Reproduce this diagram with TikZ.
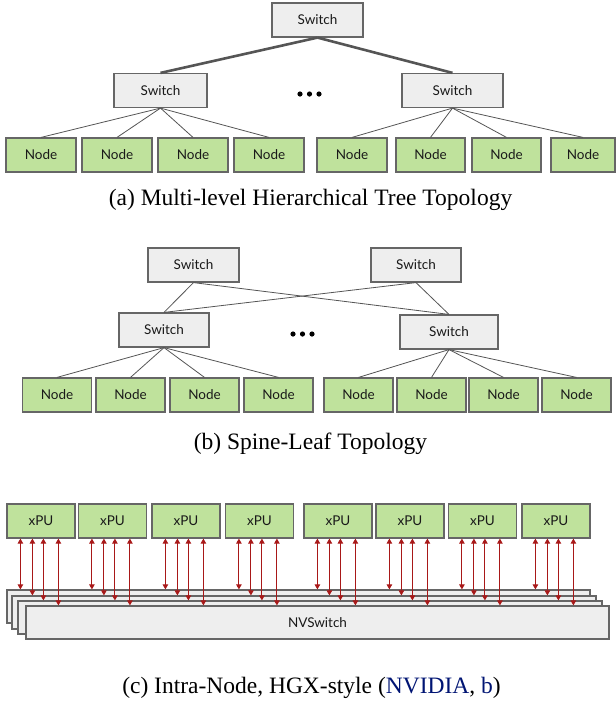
\documentclass[tikz,border=0pt]{standalone}
\usepackage{fontspec}
\setmainfont{Liberation Serif}
\newfontfamily\slidefont{Lato}
\usepackage{xcolor}
\usetikzlibrary{arrows.meta}
\usetikzlibrary{shadows}
\definecolor{boxgray}{HTML}{EEEEEE}
\definecolor{edgegray}{HTML}{666666}
\definecolor{wiregray}{HTML}{555555}
\definecolor{nodegreen}{HTML}{BFE29C}
\definecolor{linkred}{HTML}{A81818}
\definecolor{citeblue}{rgb}{0,0.08,0.45}
\tikzset{box/.style={draw=edgegray, line width=1.2pt, inner sep=0pt, minimum height=34pt,
   text=black!90, font=\slidefont\fontsize{13.5}{15}\selectfont},
 sw/.style={box, fill=boxgray},
 nd/.style={box, fill=nodegreen},
 layer/.style={box, fill=boxgray, minimum height=33pt,
   drop shadow={shadow xshift=0.8pt, shadow yshift=-1.2pt, opacity=0.3}},
 wire/.style={draw=wiregray, line width=0.8pt},
 trunk/.style={draw=wiregray, line width=2.6pt},
 link/.style={draw=linkred, line width=0.9pt,
   {Triangle[width=5.5pt,length=5pt]}-{Triangle[width=5.5pt,length=5pt]}},
 caption/.style={anchor=base, font=\fontsize{23.5}{28}\selectfont},
 }

\begin{document}
\begin{tikzpicture}[x=1pt, y=-1pt]
        \useasboundingbox (0,0) rectangle (616,705);
        % (a) tree
        \node[sw, minimum width=91pt] (aroot) at (317.5,20) {Switch};
        \node[sw, minimum width=93pt] (aleft) at (160.5,90.5) {Switch};
        \node[sw, minimum width=101pt] (aright) at (452.5,90.5) {Switch};
        \draw[trunk] (aroot.south) -- (aleft.north);
        \draw[trunk] (aroot.south) -- (aright.north);
        \foreach \n/\x in {1/41, 2/117, 3/193, 4/269} {
            \node[nd, minimum width=70pt] (a\n) at (\x,155) {Node};
            \draw[wire] (aleft.south) -- (a\n.north);
        }
        \foreach \n/\x/\w in {5/352/70, 6/430.5/69, 7/506.5/69, 8/583/64} {
            \node[nd, minimum width=\w pt] (a\n) at (\x,155) {Node};
            \draw[wire] (aright.south) -- (a\n.north);
        }
        \foreach \x in {300, 309.5, 319} {
            \fill (\x,94) circle (2.6pt);
        }
        \node[caption] (capa) at (310.5,205) {(a) Multi-level Hierarchical Tree Topology};

        % (b) spine-leaf
        \node[sw, minimum width=91pt] (bspl) at (193.5,265) {Switch};
        \node[sw, minimum width=90pt] (bspr) at (416,265) {Switch};
        \node[sw, minimum width=90pt] (bleft) at (164,330) {Switch};
        \node[sw, minimum width=98pt] (bright) at (449,332) {Switch};
        \draw[wire] (bspl.south) -- (bleft.north);
        \draw[wire] (bspl.south) -- (bright.north);
        \draw[wire] (bspr.south) -- (bright.north);
        \draw[wire] (bspr.south) -- (bleft.north);
        \foreach \n/\x in {1/57, 2/130.5, 3/204.5, 4/278.5} {
            \node[nd, minimum width=69pt] (b\n) at (\x,395) {Node};
            \draw[wire] (bleft.south) -- (b\n.north);
        }
        \foreach \n/\x in {5/358.5, 6/431.5, 7/503.5, 8/576.5} {
            \node[nd, minimum width=69pt] (b\n) at (\x,395) {Node};
            \draw[wire] (bright.south) -- (b\n.north);
        }
        \foreach \x in {293, 302.5, 312} {
            \fill (\x,334) circle (2.6pt);
        }
        \node[caption] (capb) at (310.5,449) {(b) Spine-Leaf Topology};

        % (c) intra-node
        \node[layer, minimum width=583pt] (n1) at (298.5,606.5) {};
        \node[layer, minimum width=584pt] (n2) at (304,612.5) {};
        \node[layer, minimum width=584pt] (n3) at (310,617.5) {};
        \node[layer, minimum width=583pt] (n4) at (317.5,622.5) {NVSwitch};
        \foreach \i/\x in {1/41, 2/112.5, 3/186, 4/259.5, 5/338, 6/410, 7/482.5, 8/556} {
            \node[nd, minimum width=68pt] (x\i) at (\x,521) {xPU};
        }
        \foreach \i in {1,...,8} {
            \foreach \o/\k in {14/1, 26/2, 37/3, 52/4} {
                \draw[link] (x\i.south west) ++(\o,0) coordinate (t) -- (t |- n\k.north);
            }
        }
        \node[caption] (capc) at (311.5,693) {(c) Intra-Node, HGX-style (\textcolor{citeblue}{NVIDIA}, \textcolor{citeblue}{b})};
    \end{tikzpicture}
\end{document}
